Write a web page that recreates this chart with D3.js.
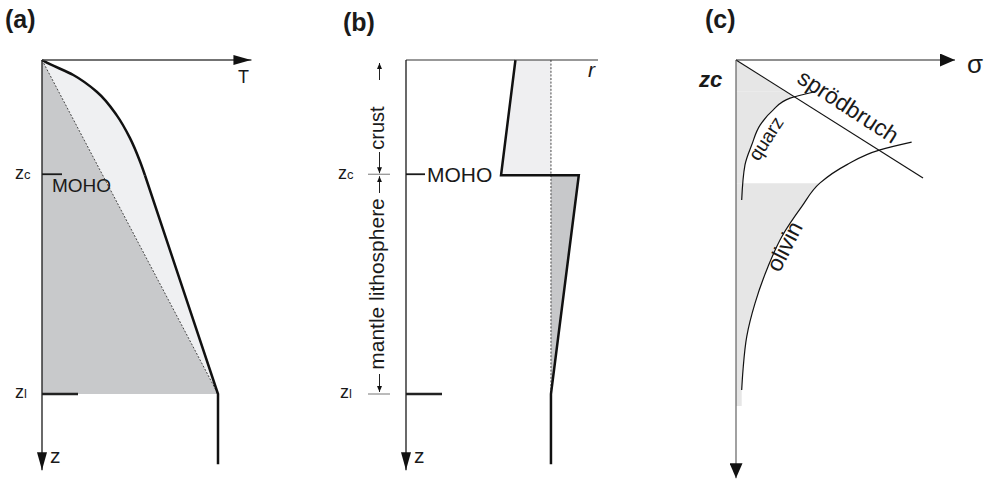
<!DOCTYPE html>
<html>
<head>
<meta charset="utf-8">
<script src="https://cdn.jsdelivr.net/npm/d3@7"></script>
<style>
    body { margin: 0; background: #fff; }
    text { font-family: "Liberation Sans", Arial, Helvetica, sans-serif; fill: #1a1a1a; }
</style>
</head>
<body>
<svg id="chart" width="994" height="479"></svg>
<script>
// depths in units of zl (base of the lithosphere)
const zMoho = 0.345
const zBase = 1
const zBottom = 1.21

// (a) geotherm, temperature in units of T at zl
const geoDepth = [0, 0.005, 0.045, 0.095, 0.165, 0.234, 0.304, 0.345]
const geoTemp = [0, 0.017, 0.178, 0.311, 0.424, 0.5, 0.557, 0.585]
const mantleDepth = [0.345, 1, 1.21]
const mantleTemp = [0.585, 1, 1]

// (b) density profile
const rhoDepth = [0, 0.345, 0.345, 1, 1.21]
const rhoValue = [0.57, 0.495, 0.9, 0.755, 0.755]
const rhoRef = 0.755

// (c) strength envelope
const brittleStress = [0, 0.854]
const brittleDepth = [0, 0.353]
const quarzStress = [0.361, 0.247, 0.169, 0.110, 0.072, 0.041, 0.026]
const quarzDepth = [0.095, 0.114, 0.150, 0.195, 0.254, 0.314, 0.419]
const olivinStress = [0.802, 0.658, 0.505, 0.384, 0.3, 0.209, 0.146, 0.087, 0.049, 0.032, 0.026]
const olivinDepth = [0.246, 0.269, 0.314, 0.368, 0.439, 0.529, 0.619, 0.728, 0.828, 0.928, 0.988]
const zSwitch = 0.369
const zFillEnd = 1.036

const svg = d3.select('#chart')
const defs = svg.append('defs')

function marker(id, w, h) {
    defs.append('marker')
        .attr('id', id)
        .attr('viewBox', `0 0 ${w} ${h}`)
        .attr('refX', w).attr('refY', h / 2)
        .attr('markerWidth', w).attr('markerHeight', h)
        .attr('markerUnits', 'userSpaceOnUse')
        .attr('orient', 'auto')
        .append('path')
        .attr('d', `M0,0L${w},${h / 2}L0,${h}Z`)
        .attr('fill', '#111')
}
marker('arrow', 18, 10)
marker('arrowC', 15, 13)
marker('tiny', 6, 5)

const z = d3.scaleLinear().domain([0, 1]).range([60, 394])

function line(g, x1, y1, x2, y2, w, col) {
    return g.append('line')
        .attr('x1', x1).attr('y1', y1).attr('x2', x2).attr('y2', y2)
        .attr('stroke', col || '#1a1a1a').attr('stroke-width', w)
}

function text(g, x, y, s, size) {
    return g.append('text').attr('x', x).attr('y', y).style('font-size', size + 'px').text(s)
}

function zLabel(g, x, y, sub) {
    const t = g.append('text').attr('x', x).attr('y', y).style('font-size', '18px')
    t.append('tspan').text('z')
    t.append('tspan').style('font-size', '13px').text(sub)
}

// ---------- (a) temperature ----------
const tA = d3.scaleLinear().domain([0, 1]).range([42, 218])
const ga = svg.append('g')

const crustPts = geoDepth.map((d, i) => [geoTemp[i], d])
const mantlePts = mantleDepth.map((d, i) => [mantleTemp[i], d])
const straightA = d3.line().x(d => tA(d[0])).y(d => z(d[1]))
const smoothA = d3.line().x(d => tA(d[0])).y(d => z(d[1])).curve(d3.curveMonotoneY)

ga.append('path')
    .attr('d', straightA([[0, 0], [1, zBase], [0, zBase]]) + 'Z')
    .attr('fill', '#c8c9cb')

ga.append('path')
    .attr('d', smoothA(crustPts) + `L${tA(1)},${z(zBase)}Z`)
    .attr('fill', '#eff0f2')

ga.append('path')
    .attr('d', straightA([[0, 0], [1, zBase]]))
    .attr('fill', 'none').attr('stroke', '#333').attr('stroke-width', 0.9)
    .attr('stroke-dasharray', '2,1.6')

ga.append('path').attr('d', smoothA(crustPts))
    .attr('fill', 'none').attr('stroke', '#111').attr('stroke-width', 2.5)
ga.append('path').attr('d', straightA(mantlePts))
    .attr('fill', 'none').attr('stroke', '#111').attr('stroke-width', 2.5)

line(ga, tA(0), z(0), tA(1.19), z(0), 1.3, '#444').attr('marker-end', 'url(#arrow)')
line(ga, tA(0), z(0), tA(0), z(1.228), 1.3).attr('marker-end', 'url(#arrow)')
line(ga, tA(0), z(zMoho) - 1, 62, z(zMoho) - 1, 1.8)
line(ga, tA(0), z(zBase), 78, z(zBase), 2.5, '#222')

text(ga, 5, 28, '(a)', 25).style('font-weight', 'bold')
text(ga, 238, 83, 'T', 18)
text(ga, 50, 463, 'z', 21)
text(ga, 52, 192, 'MOHO', 19)
zLabel(ga, 15, 179, 'c')
zLabel(ga, 15, 398, 'l')

// ---------- (b) density ----------
const rB = d3.scaleLinear().domain([0, 1]).range([406, 598])
const gb = svg.append('g')
const rhoPts = rhoDepth.map((d, i) => [rhoValue[i], d])
const lineB = d3.line().x(d => rB(d[0])).y(d => z(d[1]))

gb.append('path')
    .attr('d', lineB([rhoPts[0], [rhoRef, 0], [rhoRef, zMoho], rhoPts[1]]) + 'Z')
    .attr('fill', '#efeff1')
gb.append('path')
    .attr('d', lineB([[rhoRef, zMoho], rhoPts[2], rhoPts[3]]) + 'Z')
    .attr('fill', '#c7c8ca')

gb.append('path')
    .attr('d', lineB([[rhoRef, 0], [rhoRef, zBase]]))
    .attr('stroke', '#333').attr('stroke-width', 0.9).attr('stroke-dasharray', '2,1.6')

gb.append('path').attr('d', lineB(rhoPts))
    .attr('fill', 'none').attr('stroke', '#111').attr('stroke-width', 2.5)
    .attr('stroke-linejoin', 'miter')

line(gb, rB(0), z(0), rB(1), z(0), 1.2, '#333')
line(gb, rB(0), z(0), rB(0), z(1.228), 1.3).attr('marker-end', 'url(#arrow)')
line(gb, rB(0), z(zMoho) - 1, 425, z(zMoho) - 1, 1.8)
line(gb, rB(0), z(zBase), 442, z(zBase), 2.5, '#222')

// depth ranges beside the axis
const dimX = 379.5
line(gb, 368, z(zMoho) - 1, 390, z(zMoho) - 1, 1, '#777')
line(gb, 368, z(zBase), 390, z(zBase), 1, '#777')
line(gb, dimX, 80, dimX, z(0) + 3, 1, '#222').attr('marker-end', 'url(#tiny)')
line(gb, dimX, 152, dimX, z(zMoho) - 2, 1, '#222').attr('marker-end', 'url(#tiny)')
line(gb, dimX, 193, dimX, z(zMoho) + 1, 1, '#222').attr('marker-end', 'url(#tiny)')
line(gb, dimX, 374, dimX, z(zBase) - 2, 1, '#222').attr('marker-end', 'url(#tiny)')

gb.append('text')
    .attr('transform', `translate(384,128) rotate(-90)`)
    .attr('text-anchor', 'middle').style('font-size', '20px').text('crust')
gb.append('text')
    .attr('transform', `translate(384,284) rotate(-90)`)
    .attr('text-anchor', 'middle').style('font-size', '21px').text('mantle lithosphere')

text(gb, 343, 31, '(b)', 25).style('font-weight', 'bold')
text(gb, 588, 77, 'r', 21).style('font-style', 'italic')
text(gb, 414, 463, 'z', 21)
text(gb, 427, 182, 'MOHO', 21)
zLabel(gb, 338, 179, 'c')
zLabel(gb, 340, 398, 'l')

// ---------- (c) strength ----------
const sC = d3.scaleLinear().domain([0, 1]).range([736, 955])
const gc = svg.append('g')

const quarzPts = quarzDepth.map((d, i) => [quarzStress[i], d])
const olivinPts = olivinDepth.map((d, i) => [olivinStress[i], d])
const brittlePts = brittleDepth.map((d, i) => [brittleStress[i], d])

const lineC = d3.line().x(d => sC(d[0])).y(d => z(d[1]))
const smoothC = d3.line().x(d => sC(d[0])).y(d => z(d[1])).curve(d3.curveMonotoneY)
const areaC = d3.area().y(d => z(d[1])).x0(sC(0)).x1(d => sC(d[0])).curve(d3.curveMonotoneY)

const brittleAt = d => brittleStress[1] / brittleDepth[1] * d

defs.append('clipPath').attr('id', 'clipBrittle')
    .append('path')
    .attr('d', lineC([[0, 0], [brittleAt(zSwitch), zSwitch], [0, zSwitch]]) + 'Z')
defs.append('clipPath').attr('id', 'clipLower')
    .append('rect')
    .attr('x', sC(0)).attr('y', z(zSwitch))
    .attr('width', sC(1) - sC(0)).attr('height', z(zFillEnd) - z(zSwitch))

const upper = gc.append('g').attr('clip-path', 'url(#clipBrittle)')
upper.append('rect')
    .attr('x', sC(0)).attr('y', z(0))
    .attr('width', sC(1) - sC(0)).attr('height', z(quarzDepth[0]) - z(0))
    .attr('fill', '#e6e6e6')
upper.append('path').attr('d', areaC(quarzPts)).attr('fill', '#e6e6e6')

gc.append('path')
    .attr('clip-path', 'url(#clipLower)')
    .attr('d', areaC([...olivinPts, [olivinStress[olivinStress.length - 1], zFillEnd]]))
    .attr('fill', '#e6e6e6')

gc.append('path').attr('d', lineC(brittlePts))
    .attr('fill', 'none').attr('stroke', '#111').attr('stroke-width', 1.2)
gc.append('path').attr('d', smoothC(quarzPts))
    .attr('fill', 'none').attr('stroke', '#111').attr('stroke-width', 1.2)
gc.append('path').attr('d', smoothC(olivinPts))
    .attr('fill', 'none').attr('stroke', '#111').attr('stroke-width', 1.2)

line(gc, sC(0), z(0), sC(1), z(0), 1.2, '#222').attr('marker-end', 'url(#arrowC)')
line(gc, sC(0), z(0), sC(0), z(1.252), 1.1, '#555').attr('marker-end', 'url(#arrowC)')

text(gc, 705, 28, '(c)', 25).style('font-weight', 'bold')
text(gc, 967, 73, 'σ', 26)
text(gc, 699, 87, 'zc', 22).style('font-weight', 'bold').style('font-style', 'italic')

gc.append('text')
    .attr('transform', 'translate(844,113) rotate(33)')
    .attr('text-anchor', 'middle').style('font-size', '23px').text('sprödbruch')
gc.append('text')
    .attr('transform', 'translate(771.5,142) rotate(-57)')
    .attr('text-anchor', 'middle').style('font-size', '19px').text('quarz')
gc.append('text')
    .attr('transform', 'translate(791.5,250) rotate(-63)')
    .attr('text-anchor', 'middle').style('font-size', '23px').text('olivin')
</script>
</body>
</html>
